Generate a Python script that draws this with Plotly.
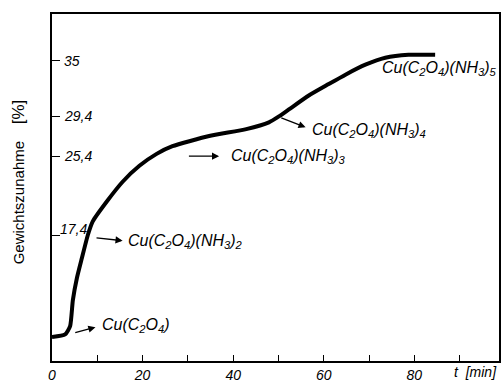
import plotly.graph_objects as go

# Curve data: time [min] vs weight gain [%]
t_min = [0, 2.9, 4.0, 4.6, 5.5, 6.6, 7.9, 9.0, 12.1, 15.6, 19.3, 23.1, 26.6,
         34.7, 42.9, 47.9, 50.1, 52.3, 56.7, 61.1, 64.8, 69.2, 73.6,
         78.7, 84.6]
gain = [7.2, 7.47, 8.3, 10.9, 13.15, 15.15, 17.45, 18.84, 20.84, 22.83,
        24.43, 25.63, 26.4, 27.43, 28.12, 28.8, 29.4, 30.1, 31.5,
        32.65, 33.6, 34.6, 35.3, 35.6, 35.6]

x_tickvals = [0, 10, 20, 30, 40, 50, 60, 70, 80, 90]
x_ticktext = ["0", "", "20", "", "40", "", "60", "", "80", ""]
y_tickvals = [17.4, 25.4, 29.4, 35]
y_ticktext = ["17,4", "25,4", "29,4", "35"]

# Phase labels: text, label anchor (t, y), arrow tail (t, y), arrow head (t, y)
phase_text = [
    "Cu(C<sub>2</sub>O<sub>4</sub>)",
    "Cu(C<sub>2</sub>O<sub>4</sub>)(NH<sub>3</sub>)<sub>2</sub>",
    "Cu(C<sub>2</sub>O<sub>4</sub>)(NH<sub>3</sub>)<sub>3</sub>",
    "Cu(C<sub>2</sub>O<sub>4</sub>)(NH<sub>3</sub>)<sub>4</sub>",
    "Cu(C<sub>2</sub>O<sub>4</sub>)(NH<sub>3</sub>)<sub>5</sub>",
]
label_t = [10.6, 16.3, 39.0, 57.0, 72.5]
label_y = [8.4, 16.8, 25.4, 28.0, 34.2]
tail_t = [4.8, 9.5, 29.9, 50.3, None]
tail_y = [7.6, 17.2, 25.4, 29.3, None]
head_t = [9.6, 15.6, 36.9, 56.0, None]
head_y = [8.2, 16.9, 25.4, 28.3, None]

FONT = "Liberation Sans"

fig = go.Figure()
fig.add_trace(go.Scatter(
    x=t_min, y=gain, mode="lines",
    line=dict(color="black", width=4, shape="spline", smoothing=0.5),
    showlegend=False, hoverinfo="skip"))

annotations = []
for i, txt in enumerate(phase_text):
    annotations.append(dict(
        x=label_t[i], y=label_y[i], xref="x", yref="y", text=txt,
        showarrow=False, xanchor="left", yanchor="middle",
        font=dict(family=FONT, size=16, color="black", style="italic")))
    if tail_t[i] is not None:
        annotations.append(dict(
            x=head_t[i], y=head_y[i], ax=tail_t[i], ay=tail_y[i],
            xref="x", yref="y", axref="x", ayref="y", text="",
            showarrow=True, arrowhead=2, arrowsize=1.1, arrowwidth=1.3,
            arrowcolor="black", standoff=0, startstandoff=0))

# y tick labels placed inside the frame
for v, s in zip(y_tickvals, y_ticktext):
    dy = 0.7 if v == 17.4 else 0
    annotations.append(dict(
        x=2.2 if v != 17.4 else 1.4, y=v + dy, xref="x", yref="y", text=s,
        showarrow=False, xanchor="left", yanchor="middle",
        font=dict(family=FONT, size=14, color="black", style="italic")))

# axis titles
annotations.append(dict(
    x=1.0, y=-0.032, xref="paper", yref="paper",
    text="<i>t</i>  [<i>min</i>]", showarrow=False, xanchor="right", yanchor="middle",
    font=dict(family=FONT, size=14, color="black", style="italic")))
annotations.append(dict(
    x=-0.076, y=0.515, xref="paper", yref="paper", textangle=-90,
    text="Gewichtszunahme    <span style='font-size:17px'>[%]</span>",
    showarrow=False, xanchor="center", yanchor="middle",
    font=dict(family=FONT, size=15, color="black")))

fig.update_layout(
    width=503, height=385,
    margin=dict(l=52, r=2, t=14, b=21),
    paper_bgcolor="white", plot_bgcolor="white",
    annotations=annotations,
)
fig.update_xaxes(
    range=[0, 98.7], tickmode="array", tickvals=x_tickvals, ticktext=x_ticktext,
    ticks="inside", ticklen=6, tickwidth=1.3, tickcolor="black",
    showline=True, linecolor="black", linewidth=2, mirror=True,
    showgrid=False, zeroline=False,
    tickfont=dict(family=FONT, size=14, color="black", style="italic"))
fig.update_yaxes(
    range=[4.8, 39.7], tickmode="array", tickvals=y_tickvals,
    ticks="inside", ticklen=8, tickwidth=1.3, tickcolor="black",
    showticklabels=False,
    showline=True, linecolor="black", linewidth=2, mirror=True,
    showgrid=False, zeroline=False)

fig.write_html("out.html")
